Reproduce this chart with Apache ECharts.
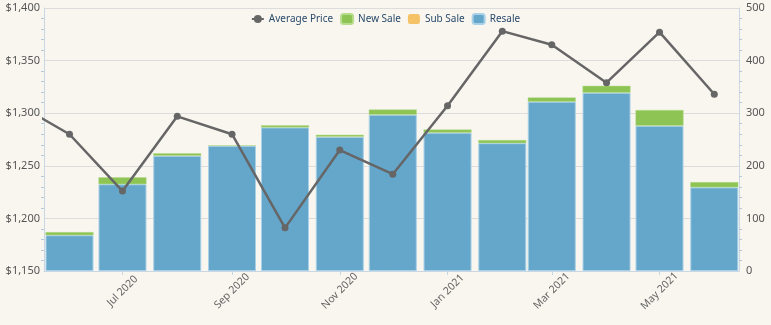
<!DOCTYPE html>
<html>
<head>
<meta charset="utf-8">
<script src="https://cdn.jsdelivr.net/npm/echarts@6/dist/echarts.min.js"></script>
<style>
html,body{margin:0;padding:0;background:#f9f6f0;}
#c{width:771px;height:325px;}
</style>
</head>
<body>
<div id="c"></div>
<script>
// Months (first of month, local time): [year, monthIndex]
const months = [[2020,5],[2020,6],[2020,7],[2020,8],[2020,9],[2020,10],[2020,11],[2021,0],[2021,1],[2021,2],[2021,3],[2021,4],[2021,5]];
const monthNames = ['Jan','Feb','Mar','Apr','May','Jun','Jul','Aug','Sep','Oct','Nov','Dec'];
// Average price: one earlier point (May 2020) that lies left of the visible range
const priceMonths = [[2020,4]].concat(months);
const avgPrice = [1310, 1280, 1226, 1297, 1280, 1191, 1265, 1242, 1307, 1378, 1365, 1329, 1377, 1318];
const resale  = [68, 165, 219, 238, 273, 255, 297, 263, 243, 322, 339, 276, 159];
const subSale = [0, 0, 0, 0, 0, 0, 0, 0, 0, 0, 0, 0, 0];
const newSale = [6, 13, 5, 1, 4, 4, 10, 6, 6, 8, 13, 30, 10];
const leftTicks = {min: 1150, max: 1400, interval: 50};
const rightTicks = {min: 0, max: 500, interval: 100};
// time range before ECharts widens it by half a bar on each side
const axisRange = {min: [2020,4,31,3,36], max: [2021,5,1,9,36]};

const t = ym => new Date(ym[0], ym[1], ym[2] || 1, ym[3] || 0, ym[4] || 0).getTime();
const pair = (arr, ms) => arr.map((v, i) => [t(ms[i]), v]);

const chart = echarts.init(document.getElementById('c'), null, {renderer: 'canvas'});
const font = 'Noto Sans';
const axisBlue = '#c9d7e4';
chart.setOption({
  backgroundColor: '#f9f6f0',
  animation: false,
  textStyle: {fontFamily: font},
  grid: {left: 44, right: 32, top: 8, bottom: 54, containLabel: false},
  legend: {
    top: 8, left: 'center',
    data: ['Average Price', 'New Sale', 'Sub Sale', 'Resale'],
    itemWidth: 12, itemHeight: 10, itemGap: 7,
    textStyle: {color: '#2a4a6b', fontSize: 10, fontFamily: font}
  },
  xAxis: {
    type: 'time',
    min: t(axisRange.min), max: t(axisRange.max),
    splitNumber: 5,
    axisLine: {lineStyle: {color: axisBlue, width: 1}},
    axisTick: {show: true, length: 4, lineStyle: {color: axisBlue}},
    splitLine: {show: false},
    axisLabel: {
      rotate: 45, align: 'center', verticalAlign: 'middle',
      color: '#666', fontSize: 10.5, fontFamily: font, margin: 20,
      formatter: v => { const d = new Date(v); return monthNames[d.getMonth()] + ' ' + d.getFullYear(); }
    }
  },
  yAxis: [
    {
      type: 'value', position: 'left',
      min: leftTicks.min, max: leftTicks.max, interval: leftTicks.interval,
      axisLine: {show: true, lineStyle: {color: axisBlue}},
      axisTick: {show: false},
      minorTick: {show: true, splitNumber: 5, length: 3, lineStyle: {color: '#b8c8d8'}},
      splitLine: {lineStyle: {color: '#dcdcdc', width: 1}},
      axisLabel: {color: '#555', fontSize: 11, fontFamily: font, margin: 4,
        formatter: v => '$' + v.toLocaleString('en-US')}
    },
    {
      type: 'value', position: 'right',
      min: rightTicks.min, max: rightTicks.max, interval: rightTicks.interval,
      axisLine: {show: true, lineStyle: {color: axisBlue}},
      axisTick: {show: false},
      minorTick: {show: true, splitNumber: 5, length: 3, lineStyle: {color: '#b8c8d8'}},
      splitLine: {show: false},
      axisLabel: {color: '#555', fontSize: 11, fontFamily: font, margin: 7}
    }
  ],
  series: [
    {
      name: 'Resale', type: 'bar', stack: 'm', yAxisIndex: 1, barWidth: 48,
      itemStyle: {color: '#65a6cb', borderColor: '#a9d0e6', borderWidth: 1},
      data: pair(resale, months)
    },
    {
      name: 'Sub Sale', type: 'bar', stack: 'm', yAxisIndex: 1, barWidth: 48,
      itemStyle: {color: '#f5c266'},
      data: pair(subSale, months)
    },
    {
      name: 'New Sale', type: 'bar', stack: 'm', yAxisIndex: 1, barWidth: 48,
      itemStyle: {color: '#8dc454', borderColor: '#b6dc8c', borderWidth: 0.5},
      data: pair(newSale, months)
    },
    {
      name: 'Average Price', type: 'line', yAxisIndex: 0, clip: true,
      symbol: 'circle', symbolSize: 7,
      lineStyle: {color: '#666', width: 2.5},
      itemStyle: {color: '#666'},
      data: pair(avgPrice, priceMonths),
      z: 5
    }
  ]
});
</script>
</body>
</html>
